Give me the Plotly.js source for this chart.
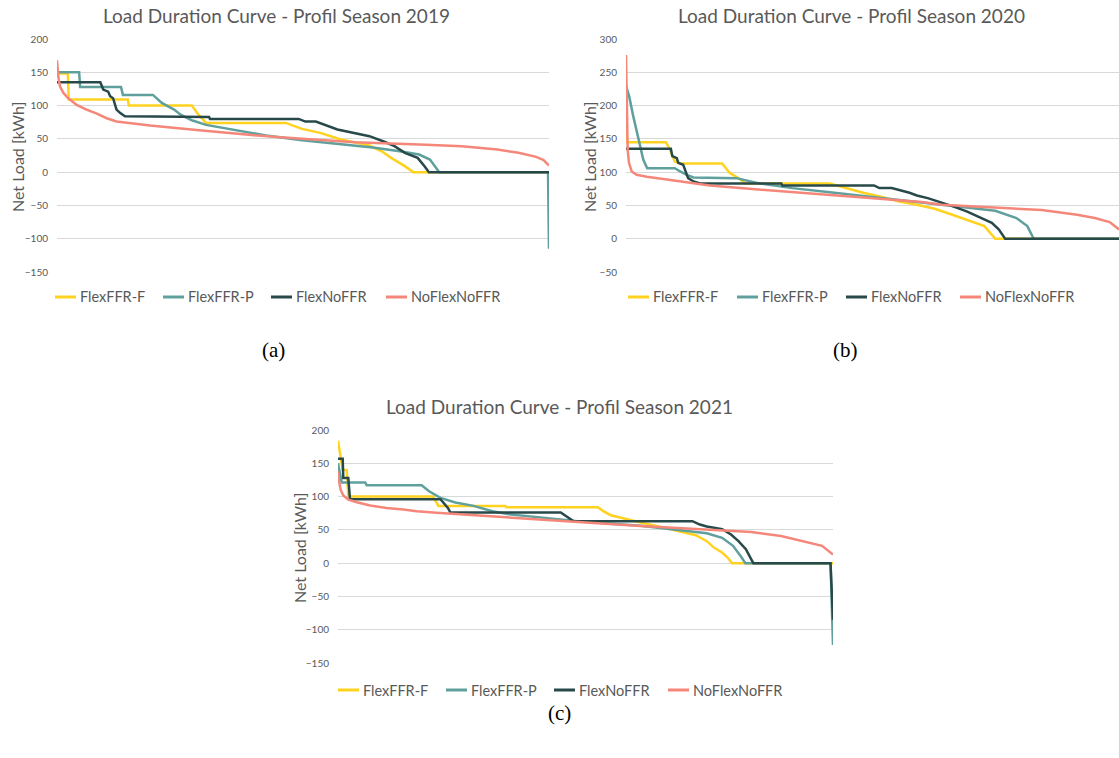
<!DOCTYPE html>
<html><head><meta charset="utf-8">
<script src="https://cdn.plot.ly/plotly-3.0.1.min.js"></script>
<style>html,body{margin:0;padding:0;background:#fff;} #chart{width:1119px;height:758px;}</style>
</head><body><div id="chart"></div>
<script>
// ---------- DATA (x = share of season duration, %, y = net load kWh) ----------
const seriesNames = ["FlexFFR-F", "FlexFFR-P", "FlexNoFFR", "NoFlexNoFFR"];
const seasons = ["2019", "2020", "2021"];

// Season 2019
const x2019_FlexFFRF = [0, 2.2, 2.4, 14.4, 14.6, 27.4, 28.8, 30.3, 46.5, 49.8, 53.5, 57.7, 63.5, 66.1, 67.9, 70.7, 72.4, 100];
const y2019_FlexFFRF = [148, 148, 109, 109, 100, 100, 86, 74, 74, 65, 59, 49, 40, 31, 21.5, 9, 0, 0];
const x2019_FlexFFRP = [0, 4.5, 4.7, 13.0, 13.4, 19.5, 21.3, 22.4, 23.8, 25.2, 27.4, 30.3, 35.4, 42.5, 49.8, 57.0, 64.2, 70.0, 73.6, 75.8, 77.7, 99.8, 100];
const y2019_FlexFFRP = [150, 150, 128, 128, 116, 116, 104, 100, 94, 86, 78, 71, 64, 55, 48, 43, 37, 31, 26.5, 19, 0, 0, -115];
const x2019_FlexNoFFR = [0, 8.8, 9.4, 10.4, 10.8, 11.4, 12.1, 12.8, 13.8, 30.9, 31.1, 49.1, 50.5, 52.6, 57.0, 60.6, 63.5, 66.4, 68.6, 70.7, 73.3, 74.7, 75.6, 100];
const y2019_FlexNoFFR = [135, 135, 124, 121, 114, 111, 94, 89, 84, 83, 80, 80, 76, 76, 64, 59, 54, 46, 39, 29, 21.5, 9, 0, 0];
const x2019_NoFlexNoFFR = [0, 0.26, 0.6, 1.3, 2.3, 4.0, 6.0, 8.1, 10.1, 12.1, 15.5, 18.9, 28.9, 39.0, 49.8, 60.6, 75.0, 82.3, 89.5, 93.8, 97.4, 98.9, 100];
const y2019_NoFlexNoFFR = [168, 144, 129, 119, 111, 101, 94, 88, 81, 76, 73, 70, 63, 56, 50, 45, 41, 39, 34, 29, 23, 18, 10];

// Season 2020
const x2020_FlexFFRF = [0, 0.2, 8.1, 8.9, 9.9, 11.0, 19.5, 21.0, 22.8, 24.2, 41.3, 44.5, 48.1, 51.7, 55.4, 59.0, 62.6, 66.2, 69.8, 72.7, 74.9, 100];
const y2020_FlexFFRF = [188, 145, 145, 134, 116, 113, 113, 99, 91, 83, 83, 76, 69, 63, 56, 51, 45, 36, 26, 19, 0, 0];
const x2020_FlexFFRP = [0, 0.67, 1.5, 2.2, 2.8, 3.5, 4.3, 9.9, 11.0, 12.3, 13.7, 22.4, 26.4, 33.7, 40.9, 48.1, 55.4, 62.6, 69.8, 74.9, 79.2, 81.4, 82.7, 100];
const y2020_FlexFFRP = [230, 213, 183, 161, 139, 119, 106, 106, 101, 96, 92, 91, 84, 76, 70, 64, 59, 53, 47, 42, 31, 19, 0, 0];
const x2020_FlexNoFFR = [0, 9.1, 9.4, 10.3, 10.6, 11.6, 12.6, 13.7, 15.0, 31.5, 31.7, 50.3, 51.4, 53.9, 57.5, 59.0, 61.2, 63.3, 66.2, 69.1, 72.0, 74.2, 75.6, 76.9, 100];
const y2020_FlexNoFFR = [135, 135, 124, 121, 114, 111, 91, 86, 83, 83, 80, 80, 76, 76, 69, 65, 61, 56, 49, 41, 31, 24, 14, 0, 0];
const x2020_NoFlexNoFFR = [0, 0.14, 0.34, 0.6, 1.16, 2.17, 4.2, 8.3, 12.3, 17.0, 25.0, 35.0, 45.0, 51.7, 60.0, 64.0, 77.1, 84.3, 91.5, 95.1, 98.1, 100];
const y2020_NoFlexNoFFR = [276, 200, 134, 114, 101, 96, 93, 89, 85, 80, 75, 69, 63, 60, 55, 51, 46, 43, 36, 31, 25, 14];

// Season 2021
const x2021_FlexFFRF = [0, 0.55, 0.95, 1.76, 2.08, 19.2, 20.3, 33.8, 34.0, 52.5, 53.6, 55.1, 58.1, 61.1, 64.8, 68.6, 72.3, 74.5, 76.0, 77.6, 78.7, 79.6, 100];
const y2021_FlexFFRF = [184, 155, 140, 140, 100, 100, 86, 86, 84, 84, 78, 72, 66, 61, 55, 48, 42, 33, 23, 16, 8.5, 0, 0];
const x2021_FlexFFRP = [0, 0.75, 5.5, 5.8, 16.9, 18.4, 20.7, 23.7, 27.4, 31.2, 34.9, 42.4, 49.9, 61.1, 68.6, 74.5, 77.6, 79.8, 81.3, 82.3, 99.5, 100];
const y2021_FlexFFRP = [150, 121, 121, 117, 117, 108, 98, 91, 86, 78, 73, 68, 62, 56, 50, 45, 38, 26, 11, 0, 0, -123];
const x2021_FlexNoFFR = [0, 0.95, 1.07, 2.08, 2.42, 20.7, 22.2, 22.7, 45.0, 46.1, 47.6, 71.6, 73.1, 74.5, 77.6, 79.4, 80.9, 82.4, 83.9, 99.5, 100];
const y2021_FlexNoFFR = [157, 157, 128, 128, 96, 96, 83, 76, 76, 71, 63, 63, 58, 55, 51, 43, 33, 21, 0, 0, -85];
const x2021_NoFlexNoFFR = [0, 0.2, 0.55, 1.07, 2.08, 3.8, 6.5, 9.8, 13.2, 15.9, 19.9, 31.2, 46.1, 61.1, 76.0, 83.5, 89.5, 94.0, 97.8, 100];
const y2021_NoFlexNoFFR = [138, 123, 110, 101.5, 95.5, 91.5, 86.6, 83, 80.6, 78, 75.6, 70.6, 63, 55.7, 49.7, 46.8, 40.8, 33.3, 26, 13];

// ---------- STYLE / LAYOUT ----------
const colors = ["#FFD21F", "#5FA09D", "#28494A", "#F4877A"];
const W = 1119, H = 758;
const fx = p => p / W;
const fy = p => 1 - p / H;
const FONT = "Lato, 'Open Sans', sans-serif";
const GREY = "#595959";

const dataBySeason = {
  "2019": [[x2019_FlexFFRF, y2019_FlexFFRF], [x2019_FlexFFRP, y2019_FlexFFRP], [x2019_FlexNoFFR, y2019_FlexNoFFR], [x2019_NoFlexNoFFR, y2019_NoFlexNoFFR]],
  "2020": [[x2020_FlexFFRF, y2020_FlexFFRF], [x2020_FlexFFRP, y2020_FlexFFRP], [x2020_FlexNoFFR, y2020_FlexNoFFR], [x2020_NoFlexNoFFR, y2020_NoFlexNoFFR]],
  "2021": [[x2021_FlexFFRF, y2021_FlexFFRF], [x2021_FlexFFRP, y2021_FlexFFRP], [x2021_FlexNoFFR, y2021_FlexNoFFR], [x2021_NoFlexNoFFR, y2021_NoFlexNoFFR]]
};

// panel geometry in pixels: plot left/right, top/bottom, legend entry starts
const panels = [
  {l: 57, r: 549, t: 39, b: 272, yr: [-150, 200], title: {x: 276, y: 15}, ytitle: {x: 18, y: 157}, leg: {xs: [55, 163, 271, 386], y: 297}, cap: {x: 273, y: 350, t: "(a)"}},
  {l: 626, r: 1119, t: 39, b: 272, yr: [-50, 300], title: {x: 851, y: 15}, ytitle: {x: 590, y: 157}, leg: {xs: [628, 737, 846, 960], y: 297}, cap: {x: 846, y: 350, t: "(b)"}},
  {l: 338, r: 833, t: 430, b: 663, yr: [-150, 200], title: {x: 559, y: 406}, ytitle: {x: 299, y: 548}, leg: {xs: [338, 446, 554, 668], y: 690}, cap: {x: 559, y: 713, t: "(c)"}}
];

const traces = [];
const layout = {
  width: W, height: H,
  margin: {l: 0, r: 0, t: 0, b: 0, autoexpand: false},
  paper_bgcolor: "#ffffff", plot_bgcolor: "#ffffff",
  font: {family: FONT, color: GREY},
  showlegend: false,
  annotations: [],
  shapes: []
};

seasons.forEach((s, i) => {
  const p = panels[i];
  const k = i === 0 ? "" : String(i + 1);
  dataBySeason[s].forEach((xy, j) => {
    traces.push({
      type: "scatter", mode: "lines",
      x: xy[0], y: xy[1],
      name: seriesNames[j],
      line: {color: colors[j], width: 2.5},
      xaxis: "x" + k, yaxis: "y" + k,
      hoverinfo: "skip"
    });
    // legend entry (key line + label)
    const lx = p.leg.xs[j];
    layout.shapes.push({type: "line", xref: "paper", yref: "paper",
      x0: fx(lx), x1: fx(lx + 21), y0: fy(p.leg.y), y1: fy(p.leg.y),
      line: {color: colors[j], width: 3}});
    layout.annotations.push({text: seriesNames[j], xref: "paper", yref: "paper",
      x: fx(lx + 23), y: fy(p.leg.y), xanchor: "left", yanchor: "middle", showarrow: false,
      font: {family: FONT, size: 14.5, color: GREY}});
  });
  layout["xaxis" + k] = {
    domain: [fx(p.l), fx(p.r)], range: [0, 100], anchor: "y" + k,
    showgrid: false, zeroline: false, showline: false, showticklabels: false, ticks: "", fixedrange: true
  };
  layout["yaxis" + k] = {
    domain: [fy(p.b), fy(p.t)], range: p.yr, anchor: "x" + k, dtick: 50, tick0: 0,
    showgrid: true, gridcolor: "#d9d9d9", gridwidth: 1, zeroline: false, showline: false,
    ticks: "", ticklabelstandoff: 8, tickfont: {family: FONT, size: 10, color: GREY}, fixedrange: true
  };
  layout.annotations.push(
    {text: "Load Duration Curve - Profil Season " + s, xref: "paper", yref: "paper", x: fx(p.title.x), y: fy(p.title.y),
     xanchor: "center", yanchor: "middle", showarrow: false, font: {family: FONT, size: 19, color: GREY}},
    {text: "Net Load [kWh]", xref: "paper", yref: "paper", x: fx(p.ytitle.x), y: fy(p.ytitle.y), textangle: -90,
     xanchor: "center", yanchor: "middle", showarrow: false, font: {family: FONT, size: 16, color: GREY}},
    {text: p.cap.t, xref: "paper", yref: "paper", x: fx(p.cap.x), y: fy(p.cap.y),
     xanchor: "center", yanchor: "middle", showarrow: false, font: {family: "'Liberation Serif', 'DejaVu Serif', serif", size: 21, color: "#000"}}
  );
});

Plotly.newPlot("chart", traces, layout, {displayModeBar: false, staticPlot: true});
</script>
</body></html>
